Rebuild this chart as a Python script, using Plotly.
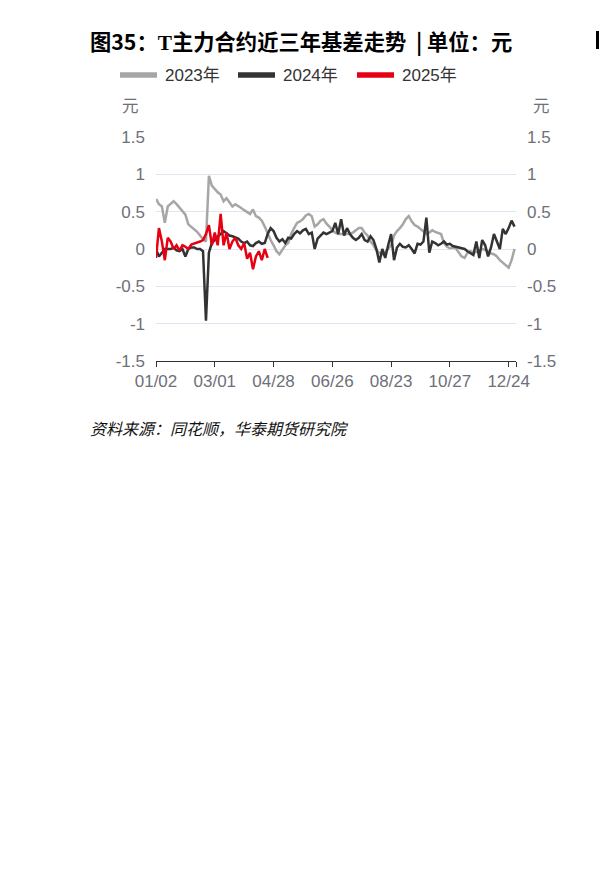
import plotly.graph_objects as go

# trading-day index of every second session, shared by all three years
day_idx = list(range(0, 245, 2))

basis_2023 = [
    0.67, 0.60, 0.57, 0.35, 0.57, 0.60, 0.64, 0.60, 0.55, 0.50,
    0.46, 0.33, 0.30, 0.27, 0.23, 0.18, 0.13, 0.10, 0.98, 0.85,
    0.80, 0.76, 0.73, 0.64, 0.68, 0.62, 0.57, 0.60, 0.58, 0.55,
    0.52, 0.50, 0.47, 0.53, 0.44, 0.42, 0.38, 0.30, 0.20, 0.12,
    0.05, -0.03, -0.07, 0.00, 0.05, 0.08, 0.20, 0.28, 0.35, 0.37,
    0.40, 0.45, 0.47, 0.44, 0.30, 0.33, 0.38, 0.40, 0.34, 0.30,
    0.25, 0.22, 0.20, 0.20, 0.20, 0.20, 0.20, 0.22, 0.25, 0.28,
    0.28, 0.22, 0.18, 0.10, 0.05, -0.02, -0.05, -0.07, -0.04, 0.00,
    0.05, 0.18, 0.24, 0.28, 0.33, 0.40, 0.44, 0.37, 0.32, 0.30,
    0.27, 0.23, 0.20, 0.22, 0.25, 0.23, 0.22, 0.20, 0.08, 0.03,
    0.01, 0.02, 0.01, -0.05, -0.10, -0.12, -0.05, -0.03, -0.05, -0.04,
    -0.02, 0.00, -0.01, -0.04, -0.06, -0.07, -0.10, -0.15, -0.18, -0.22,
    -0.25, -0.15, 0.00,
]

basis_2024 = [
    0.00, -0.10, -0.05, 0.00, 0.00, 0.00, 0.02, -0.02, -0.03, 0.00,
    -0.10, 0.00, 0.02, 0.02, 0.00, 0.00, -0.03, -0.96, -0.05, 0.08,
    0.12, 0.17, 0.20, 0.24, 0.21, 0.18, 0.17, 0.15, 0.14, 0.10,
    0.08, 0.10, 0.05, 0.04, 0.08, 0.10, 0.07, 0.08, 0.20, 0.28,
    0.24, 0.15, 0.10, 0.13, 0.08, 0.15, 0.14, 0.20, 0.24, 0.21,
    0.25, 0.27, 0.20, 0.22, 0.00, 0.14, 0.18, 0.22, 0.20, 0.22,
    0.24, 0.35, 0.20, 0.40, 0.18, 0.28, 0.20, 0.15, 0.12, 0.15,
    0.20, 0.12, 0.10, 0.17, 0.12, 0.00, -0.18, 0.00, -0.12, 0.05,
    0.20, -0.15, 0.02, 0.07, 0.03, 0.02, 0.05, 0.00, -0.06, 0.07,
    0.06, 0.10, 0.42, -0.05, 0.10, 0.08, 0.05, 0.07, 0.10, 0.06,
    0.07, 0.04, 0.03, 0.02, 0.00, 0.00, -0.03, -0.05, -0.08, 0.10,
    -0.12, 0.12, 0.05, -0.10, 0.02, 0.20, 0.10, 0.00, 0.27, 0.20,
    0.28, 0.38, 0.30,
]

basis_2025 = [
    -0.12, 0.28, 0.10, -0.15, 0.15, 0.10, 0.00, 0.05, -0.02, 0.05,
    0.03, 0.00, 0.06, 0.07, 0.08, 0.10, 0.12, 0.20, 0.32, 0.05,
    0.22, 0.05, 0.47, 0.05, 0.22, 0.00, 0.10, 0.15, 0.05, 0.00,
    0.08, -0.13, -0.05, -0.27, -0.10, -0.03, -0.15, 0.00, -0.12,
]

x_tick_idx = [0, 40, 80, 120, 160, 200, 240, 245]
x_tick_text = ["01/02", "03/01", "04/28", "06/26", "08/23", "10/27", "12/24", ""]
y_ticks = [-1.5, -1, -0.5, 0, 0.5, 1, 1.5]
y_tick_text = ["-1.5", "-1", "-0.5", "0", "0.5", "1", "1.5"]

series = [
    ("2023年", basis_2023, "#a6a6a6"),
    ("2024年", basis_2024, "#333333"),
    ("2025年", basis_2025, "#e60012"),
]

W, H = 599, 884
L, R, T, B = 156, 516, 137, 361  # plot area in page pixels


def px(x):
    return (x - L) / (R - L)


def py(y):
    return (B - y) / (B - T)


fig = go.Figure()
for name, vals, color in series:
    fig.add_trace(go.Scatter(
        x=day_idx[:len(vals)], y=vals, mode="lines", name=name,
        line=dict(color=color, width=2.5), showlegend=False,
    ))
# invisible trace so the right-hand axis is drawn
fig.add_trace(go.Scatter(x=[None], y=[None], yaxis="y2", showlegend=False))

tick_font = dict(family="Liberation Sans, Noto Sans CJK SC", size=17, color="#6e7079")
cjk = "Noto Sans CJK SC"

fig.update_layout(
    width=W, height=H,
    margin=dict(l=L, r=W - R, t=T, b=H - B),
    paper_bgcolor="white", plot_bgcolor="white",
    font=dict(family="Liberation Sans, Noto Sans CJK SC"),
    showlegend=False,
    xaxis=dict(
        range=[0, 245], tickvals=x_tick_idx, ticktext=x_tick_text,
        showgrid=False, zeroline=False, showline=True, linecolor="#333333",
        ticks="outside", ticklen=5, tickcolor="#333333", tickfont=tick_font,
    ),
    yaxis=dict(
        range=[-1.5, 1.5], tickvals=y_ticks, ticktext=y_tick_text,
        gridcolor="#e0e6f1", zeroline=False, showline=False, ticks="",
        ticklabelstandoff=10, tickfont=tick_font,
    ),
    yaxis2=dict(
        range=[-1.5, 1.5], tickvals=y_ticks, ticktext=y_tick_text,
        overlaying="y", side="right", showgrid=False, zeroline=False,
        ticks="", ticklabelstandoff=10, tickfont=tick_font,
    ),
)

# legend drawn by hand: thick sample line + label
legend_x = [120, 238, 357]
for (name, vals, color), lx in zip(series, legend_x):
    fig.add_shape(
        type="line", xref="paper", yref="paper",
        x0=px(lx), x1=px(lx + 37), y0=py(75), y1=py(75),
        line=dict(color=color, width=5.5),
    )
    fig.add_annotation(
        text=name, x=px(lx + 43), y=py(75), xref="paper", yref="paper",
        xanchor="left", yanchor="middle", showarrow=False,
        font=dict(family="Liberation Sans, Noto Sans CJK SC", size=17, color="#333333"),
    )

# edge of the neighbouring chart's title bar
fig.add_shape(
    type="rect", xref="paper", yref="paper",
    x0=px(596), x1=px(600), y0=py(31), y1=py(49),
    line=dict(width=0), fillcolor="#000000",
)

notes = [
    ("图35：<span style='font-family:Liberation Serif'>T</span>主力合约近三年基差走势\u00a0 | 单位：元",
     88, 40, "left", dict(family=cjk, size=21.3, color="#000000", weight="bold")),
    ("元", 130, 105, "center", dict(family=cjk, size=16.5, color="#6e7079")),
    ("元", 541, 105, "center", dict(family=cjk, size=16.5, color="#6e7079")),
    ("资料来源：同花顺，华泰期货研究院", 88, 428, "left",
     dict(family=cjk, size=16, color="#111111", style="italic")),
]
for text, x, y, anchor, font in notes:
    fig.add_annotation(
        text=text, x=px(x), y=py(y), xref="paper", yref="paper",
        xanchor=anchor, yanchor="middle", showarrow=False, font=font,
    )

fig.write_html(
    "out.html",
    config={"displayModeBar": False},
    post_script="document.body.style.margin='0';",
)
